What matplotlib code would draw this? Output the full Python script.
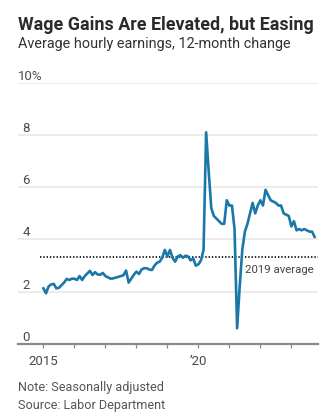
import matplotlib
matplotlib.use("Agg")
import matplotlib.pyplot as plt
import matplotlib.transforms as mtransforms

plt.rcParams['font.family'] = ['Roboto', 'DejaVu Sans']

# monthly values, Jan 2015 .. Oct 2023 (percent change from a year earlier)
start_year = 2015
wages = [
    2.13, 1.94, 2.2, 2.28, 2.3, 2.13, 2.15, 2.25, 2.35, 2.49, 2.45, 2.5,   # 2015
    2.5, 2.45, 2.6, 2.45, 2.6, 2.7, 2.8, 2.64, 2.75, 2.66, 2.65, 2.72,     # 2016
    2.6, 2.55, 2.5, 2.51, 2.54, 2.57, 2.6, 2.63, 2.81, 2.35, 2.5, 2.65,    # 2017
    2.77, 2.68, 2.85, 2.9, 2.9, 2.85, 2.83, 3.0, 3.11, 3.15, 3.3, 3.6,     # 2018
    3.35, 3.6, 3.3, 3.15, 3.35, 3.4, 3.3, 3.38, 3.35, 3.2, 3.28, 3.0,      # 2019
    3.05, 3.2, 3.6, 8.1, 6.6, 5.2, 4.9, 4.8, 4.7, 4.6, 4.6, 5.5,           # 2020
    5.3, 5.3, 4.4, 0.6, 2.2, 3.6, 4.3, 4.6, 5.0, 5.4, 5.0, 5.3,            # 2021
    5.5, 5.3, 5.9, 5.7, 5.5, 5.45, 5.4, 5.3, 5.3, 5.0, 4.95, 4.9,          # 2022
    4.5, 4.7, 4.35, 4.4, 4.35, 4.4, 4.35, 4.3, 4.3, 4.1,                   # 2023
]
avg_2019 = 3.32

y_ticks = [0, 2, 4, 6, 8, 10]
y_labels = ['0', '2', '4', '6', '8', '10%']
x_ticks = list(range(2015, 2024))
x_labels = ['2015', '', '', '', '', '\u201920', '', '', '']

times = [start_year + i / 12 for i in range(len(wages))]

W, H = 330, 419
fig = plt.figure(figsize=(W / 100, H / 100), dpi=100)
ax = fig.add_axes([18 / W, 1 - 344 / H, (317.7 - 18) / W, (344 - 82.7) / H])
ax.set_xlim(2014.18, 2023.85)
ax.set_ylim(0, 10)

for s in ['top', 'right', 'left']:
    ax.spines[s].set_visible(False)
ax.spines['bottom'].set_color('#8a8a8a')
ax.spines['bottom'].set_linewidth(1.6)
ax.spines['bottom'].set_zorder(4)

for v in y_ticks[1:]:
    ax.axhline(v, color='#e9e9e9', lw=1.3, zorder=0)

ax.set_yticks([])
trans = mtransforms.blended_transform_factory(ax.transAxes, ax.transData)
for v, lab in zip(y_ticks, y_labels):
    if lab.endswith('%'):
        ax.text(0.0, v + 0.12, lab, transform=trans, ha='left', va='baseline',
                fontsize=9.5, color='#4a4a4a')
    else:
        ax.text(0.04, v + 0.12, lab, transform=trans, ha='right', va='baseline',
                fontsize=9.5, color='#4a4a4a')

ax.set_xticks(x_ticks)
ax.set_xticklabels(x_labels)
ax.tick_params(axis='x', length=3, width=0.9, color='#8a8a8a', pad=5,
               labelsize=9.5, labelcolor='#4a4a4a')

# 2019 average reference line
ax.plot([2014.9, 2023.85], [avg_2019, avg_2019], color='#222222', lw=1.4,
        linestyle=(0, (0.7, 1.0)), dash_capstyle='butt', zorder=2)
ax.text(2021.5, 2.7, '2019 average', ha='left', va='baseline',
        fontsize=8.2, color='#444444')

ax.plot(times, wages, color='#1a78a8', lw=1.9, zorder=3, solid_joinstyle='round')

fig.text(18 / W, 1 - 29.5 / H, 'Wage Gains Are Elevated, but Easing',
         fontsize=12.9, fontweight='bold', color='#2a2a2a', va='baseline')
fig.text(18 / W, 1 - 48 / H, 'Average hourly earnings, 12-month change',
         fontsize=10.4, color='#333333', va='baseline')
fig.text(18 / W, 1 - 390.5 / H, 'Note: Seasonally adjusted',
         fontsize=9.1, color='#555555', va='baseline')
fig.text(18 / W, 1 - 409 / H, 'Source: Labor Department',
         fontsize=9.1, color='#555555', va='baseline')

fig.savefig('out.png', dpi=100)
